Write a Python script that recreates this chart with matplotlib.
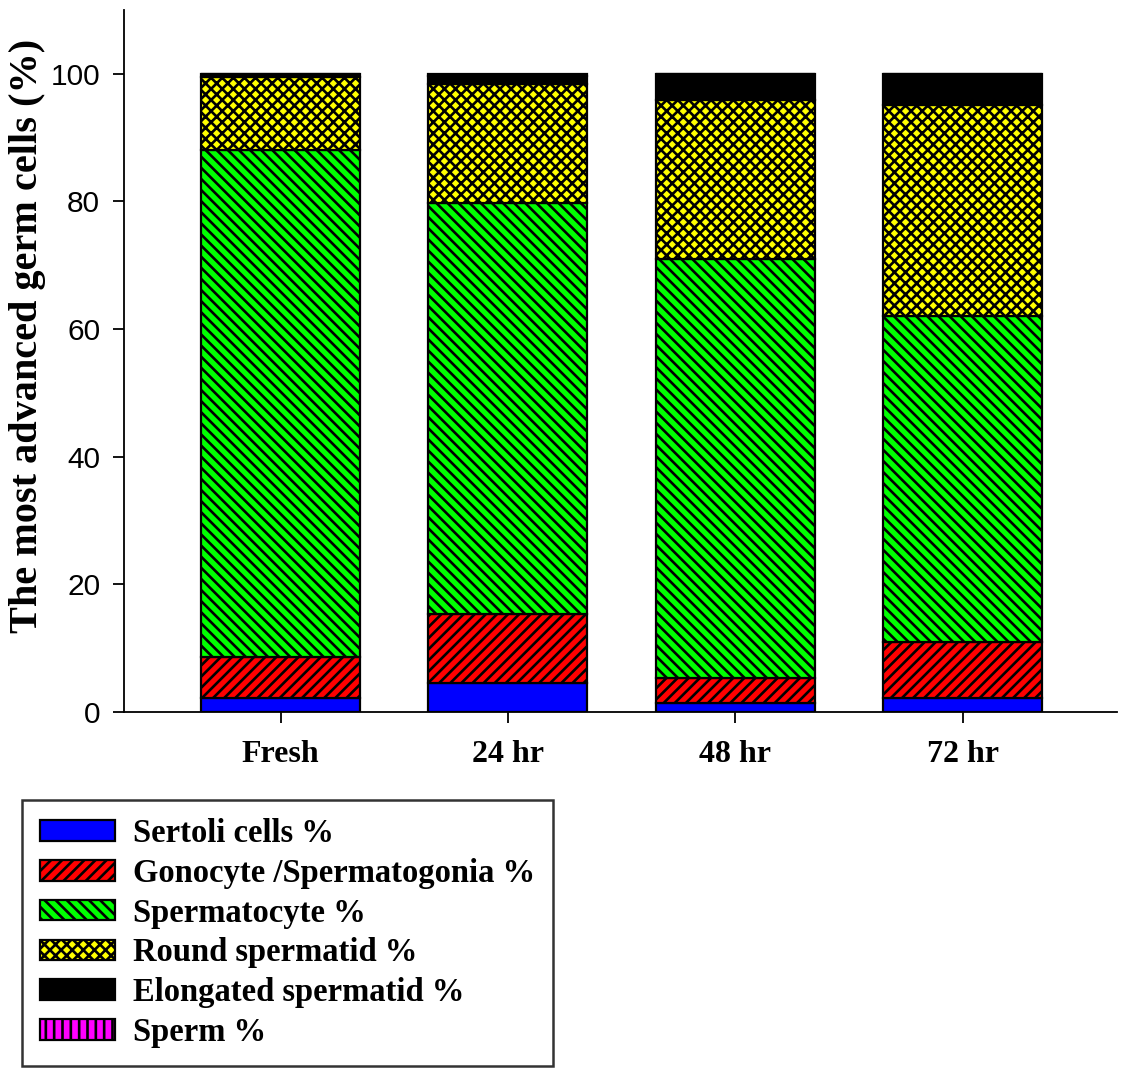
import matplotlib
matplotlib.use("Agg")
import matplotlib.pyplot as plt
import numpy as np

# time points
groups = ["Fresh", "24 hr", "48 hr", "72 hr"]

# stacked percentages per cell type (bottom -> top)
sertoli = [2.2, 4.5, 1.4, 2.2]
gonocyte = [6.4, 10.8, 3.9, 8.8]
spermatocyte = [79.4, 64.4, 65.7, 51.0]
round_spermatid = [11.5, 18.6, 24.9, 33.1]
elongated = [0.5, 1.3, 4.1, 4.9]
sperm = [0.0, 0.4, 0.0, 0.0]

labels = ["Sertoli cells %", "Gonocyte /Spermatogonia %", "Spermatocyte %",
          "Round spermatid %", "Elongated spermatid %", "Sperm %"]
colors = ["#0000ff", "#ff0000", "#00ff00", "#ffff00", "#000000", "#ff00ff"]
hatches = [None, "///", "\\\\\\", "xxx", None, "||"]

plt.rcParams['hatch.linewidth'] = 1.9
serif = ['Liberation Serif', 'DejaVu Serif']
sans = ['Liberation Sans', 'DejaVu Sans']

fig = plt.figure(figsize=(11.25, 10.74), dpi=100)
ax = fig.add_axes([0.110, 0.337, 0.883, 0.654])

x = np.arange(len(groups))
bottom = np.zeros(len(groups))
series = [sertoli, gonocyte, spermatocyte, round_spermatid, elongated, sperm]
for vals, lab, col, h in zip(series, labels, colors, hatches):
    vals = np.array(vals)
    ax.bar(x, vals, 0.7, bottom=bottom, color=col, edgecolor='black',
           linewidth=1.6, hatch=h, label=lab)
    bottom += vals

ax.set_xlim(-0.69, 3.68)
ax.set_ylim(0, 110)
ax.set_yticks([0, 20, 40, 60, 80, 100])
ax.set_xticks(x)
ax.set_xticklabels(groups, fontfamily=serif, fontweight='bold', fontsize=23)
for t in ax.get_yticklabels():
    t.set_fontfamily(sans)
    t.set_fontsize(21.5)
ax.tick_params(axis='both', direction='out', length=8, width=1.3)
ax.tick_params(axis='x', pad=12)
ax.tick_params(axis='y', pad=9)
ax.spines['top'].set_visible(False)
ax.spines['right'].set_visible(False)
ax.spines['left'].set_linewidth(1.3)
ax.spines['bottom'].set_linewidth(1.3)
ax.set_ylabel("The most advanced germ cells (%)", fontfamily=serif,
              fontweight='bold', fontsize=29)
ax.yaxis.set_label_coords(-0.078, 0.535)

leg = ax.legend(loc='upper left', bbox_to_anchor=(22 / 1125, 1 - 800 / 1074),
                bbox_transform=fig.transFigure, frameon=True, fancybox=False,
                prop={'family': serif, 'weight': 'bold', 'size': 23.5},
                handlelength=2.3, handleheight=0.6, labelspacing=0.27,
                handletextpad=0.55, borderpad=0.55, borderaxespad=0)
leg.get_frame().set_edgecolor('black')
leg.get_frame().set_linewidth(1.8)

fig.savefig("out.png", dpi=100)
